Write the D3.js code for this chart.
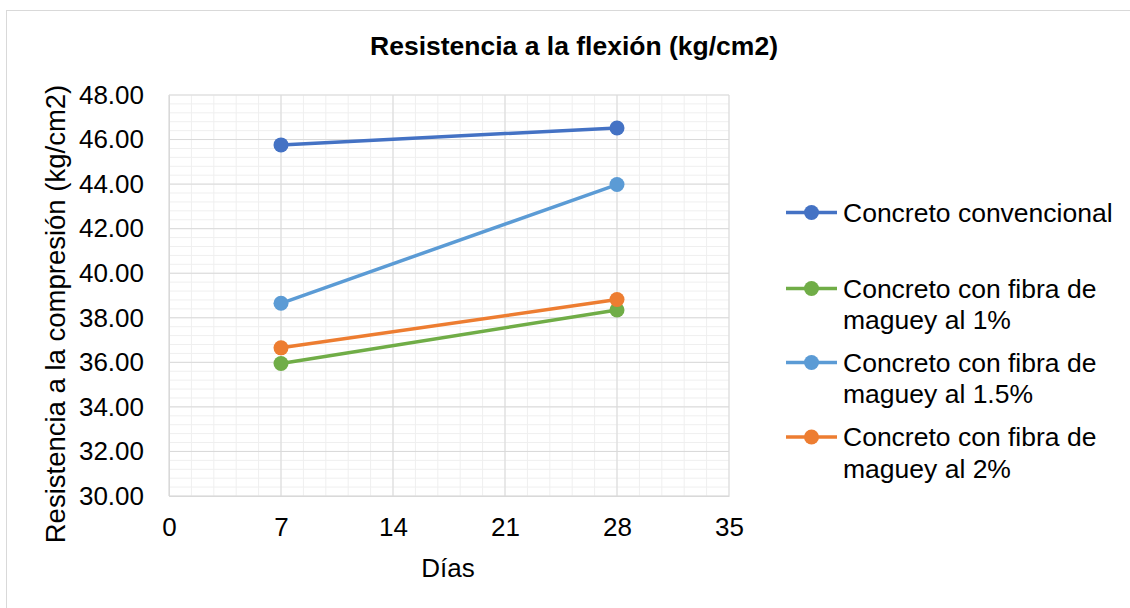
<!DOCTYPE html>
<html>
<head>
<meta charset="utf-8">
<script src="https://cdn.jsdelivr.net/npm/d3@7"></script>
<style>
  body { margin: 0; background: #fff; }
  text { font-family: "Liberation Sans", Arial, sans-serif; fill: #000; }
</style>
</head>
<body>
<svg id="chart" width="1130" height="608"></svg>
<script>
// data
const days = [7, 28];
const seriesNames = [
  "Concreto convencional",
  "Concreto con fibra de maguey al 1%",
  "Concreto con fibra de maguey al 1.5%",
  "Concreto con fibra de maguey al 2%"
];
const convencional = [45.76, 46.52];
const fibra1 = [35.95, 38.35];
const fibra15 = [38.65, 43.98];
const fibra2 = [36.65, 38.82];
const colors = ["#4472c4", "#70ad47", "#5b9bd5", "#ed7d31"];
const legendLines = [
  ["Concreto convencional"],
  ["Concreto con fibra de", "maguey al 1%"],
  ["Concreto con fibra de", "maguey al 1.5%"],
  ["Concreto con fibra de", "maguey al 2%"]
];
const xTicks = [0, 7, 14, 21, 28, 35];
const yTicks = [30, 32, 34, 36, 38, 40, 42, 44, 46, 48];

const svg = d3.select("#chart");
const plotLeft = 169, plotRight = 729, plotTop = 95, plotBottom = 496;

// chart border
svg.append("rect")
  .attr("x", 6.5).attr("y", 10.5)
  .attr("width", 1140).attr("height", 620)
  .attr("fill", "none").attr("stroke", "#d9d9d9").attr("stroke-width", 1);

const x = d3.scaleLinear().domain([0, 35]).range([plotLeft, plotRight]);
const y = d3.scaleLinear().domain([30, 48]).range([plotBottom, plotTop]);

// minor grid
const minorX = d3.range(0, 35.001, 1.4);
const minorY = d3.range(30, 48.001, 0.4);
svg.append("g").selectAll("line").data(minorX).join("line")
  .attr("x1", d => x(d)).attr("x2", d => x(d))
  .attr("y1", plotTop).attr("y2", plotBottom)
  .attr("stroke", "#efefef").attr("stroke-width", 1);
svg.append("g").selectAll("line").data(minorY).join("line")
  .attr("x1", plotLeft).attr("x2", plotRight)
  .attr("y1", d => y(d)).attr("y2", d => y(d))
  .attr("stroke", "#efefef").attr("stroke-width", 1);

// major grid
svg.append("g").selectAll("line").data(xTicks).join("line")
  .attr("x1", d => x(d)).attr("x2", d => x(d))
  .attr("y1", plotTop).attr("y2", plotBottom)
  .attr("stroke", "#d9d9d9").attr("stroke-width", 1);
svg.append("g").selectAll("line").data(yTicks).join("line")
  .attr("x1", plotLeft).attr("x2", plotRight)
  .attr("y1", d => y(d)).attr("y2", d => y(d))
  .attr("stroke", "#d9d9d9").attr("stroke-width", 1);

// axes (labels only, lines drawn by grid)
const xAxis = svg.append("g")
  .attr("transform", `translate(0,${plotBottom})`)
  .call(d3.axisBottom(x).tickValues(xTicks).tickSize(0).tickPadding(22).tickFormat(d3.format("d")));
xAxis.select(".domain").attr("stroke", "#d9d9d9");
xAxis.selectAll("text").attr("font-size", 26).attr("font-family", "Liberation Sans, Arial, sans-serif");

const yAxis = svg.append("g")
  .attr("transform", `translate(${plotLeft},0)`)
  .call(d3.axisLeft(y).tickValues(yTicks).tickSize(0).tickPadding(25).tickFormat(d3.format(".2f")));
yAxis.select(".domain").attr("stroke", "#d9d9d9");
yAxis.selectAll("text").attr("font-size", 26).attr("font-family", "Liberation Sans, Arial, sans-serif");

// series
const allSeries = [convencional, fibra1, fibra15, fibra2];
const line = d3.line().x((d, i) => x(days[i])).y(d => y(d));
allSeries.forEach((vals, k) => {
  svg.append("path").datum(vals)
    .attr("d", line)
    .attr("fill", "none")
    .attr("stroke", colors[k])
    .attr("stroke-width", 3.5)
    .attr("stroke-linecap", "round");
  svg.append("g").selectAll("circle").data(vals).join("circle")
    .attr("cx", (d, i) => x(days[i]))
    .attr("cy", d => y(d))
    .attr("r", 7.5)
    .attr("fill", colors[k]);
});

// titles
svg.append("text")
  .attr("x", 574).attr("y", 55)
  .attr("text-anchor", "middle")
  .attr("font-size", 26.5).attr("font-weight", "bold")
  .text("Resistencia a la flexión (kg/cm2)");

svg.append("text")
  .attr("x", 448).attr("y", 577)
  .attr("text-anchor", "middle")
  .attr("font-size", 26)
  .text("Días");

svg.append("text")
  .attr("transform", "translate(65,314) rotate(-90)")
  .attr("text-anchor", "middle")
  .attr("font-size", 27.5)
  .text("Resistencia a la compresión (kg/cm2)");

// legend
const legendY = [212.5, 288.5, 362.5, 437];
const legend = svg.append("g");
legendLines.forEach((lines, k) => {
  const g = legend.append("g").attr("transform", `translate(0,${legendY[k]})`);
  g.append("line")
    .attr("x1", 786).attr("x2", 837)
    .attr("stroke", colors[k]).attr("stroke-width", 3.5);
  g.append("circle").attr("cx", 811.5).attr("r", 7.5).attr("fill", colors[k]);
  lines.forEach((t, j) => {
    g.append("text")
      .attr("x", 843).attr("y", j * 31.5 + 9)
      .attr("font-size", 26.5)
      .text(t);
  });
});
</script>
</body>
</html>
